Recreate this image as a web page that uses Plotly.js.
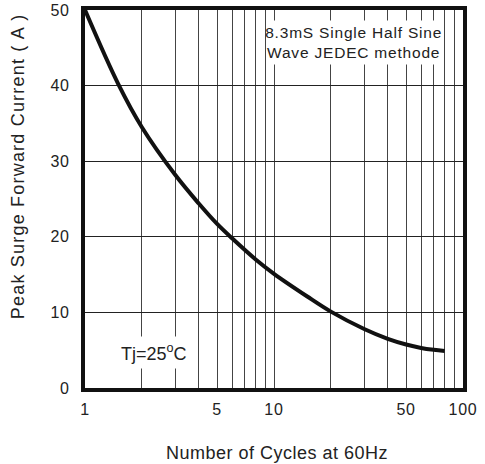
<!DOCTYPE html>
<html>
<head>
<meta charset="utf-8">
<script src="https://cdn.plot.ly/plotly-3.0.1.min.js"></script>
<style>
html,body{margin:0;padding:0;background:#fff;}
#chart{width:485px;height:464px;}
#chart .xtick text, #chart .ytick text{letter-spacing:0.8px;}
#chart .annotation[data-index="0"] text{letter-spacing:0.8px;}
#chart .annotation[data-index="2"] text{letter-spacing:1.2px;}
#chart .annotation[data-index="3"] text{letter-spacing:0.5px;}
</style>
</head>
<body>
<div id="chart"></div>
<script>
// Number of cycles at 60Hz
const cycles = [1, 1.5, 2, 3, 4, 5, 6, 8, 10, 15, 20, 30, 40, 50, 60, 70, 80];
// Peak surge forward current (A)
const current = [50, 40.2, 34.5, 28.2, 24.4, 21.7, 19.8, 17.0, 15.1, 12.1, 10.1, 7.8, 6.5, 5.75, 5.3, 5.05, 4.9];
const xTickVals = [1, 5, 10, 50, 100];
const xTickText = ['1', '5', '10', '50', '100'];
const xMinorVals = [2, 3, 4, 6, 7, 8, 9, 20, 30, 40, 60, 70, 80, 90];
const yTickVals = [0, 10, 20, 30, 40, 50];
const noteText = '8.3mS Single Half Sine<br>Wave JEDEC methode';
const tempText = 'Tj=25<sup>o</sup>C';
const xTitle = 'Number of Cycles at 60Hz';
const yTitle = 'Peak Surge Forward Current ( A )';

const fam = 'Liberation Sans, Arial, sans-serif';
const tickFont = {family: fam, size: 16, color: '#222'};

Plotly.newPlot('chart', [{
  x: cycles, y: current, type: 'scatter', mode: 'lines',
  line: {color: '#111', width: 4, shape: 'spline', smoothing: 1},
  hoverinfo: 'none'
}], {
  width: 485, height: 464,
  margin: {l: 85, r: 22, t: 10, b: 76},
  paper_bgcolor: '#fff', plot_bgcolor: '#fff',
  font: tickFont,
  showlegend: false,
  xaxis: {
    type: 'log', range: [0, 2],
    tickmode: 'array', tickvals: xTickVals, ticktext: xTickText,
    ticks: 'outside', ticklen: 4, tickcolor: 'rgba(0,0,0,0)',
    showgrid: true, gridcolor: '#444', gridwidth: 1,
    minor: {tickmode: 'array', tickvals: xMinorVals, showgrid: true, gridcolor: '#444', gridwidth: 1, ticks: ''},
    showline: true, linecolor: '#111', linewidth: 4, mirror: true,
    zeroline: false,
    tickfont: tickFont
  },
  yaxis: {
    range: [0, 50],
    tickmode: 'array', tickvals: yTickVals,
    ticks: 'outside', ticklen: 8, tickcolor: 'rgba(0,0,0,0)',
    showgrid: true, gridcolor: '#222', gridwidth: 1,
    showline: true, linecolor: '#111', linewidth: 4, mirror: true,
    zeroline: false,
    tickfont: tickFont
  },
  annotations: [
    {xref: 'paper', yref: 'paper', x: 0.709, y: 0.913, xanchor: 'center', yanchor: 'middle',
     text: noteText, showarrow: false,
     bgcolor: '#fff', font: {family: fam, size: 15.5, color: '#222'}, borderpad: 3, align: 'center'},
    {xref: 'paper', yref: 'paper', x: 0.183, y: 0.093, xanchor: 'center', yanchor: 'middle',
     text: tempText, showarrow: false,
     bgcolor: '#fff', font: {family: fam, size: 18, color: '#222'}, borderpad: 4},
    {xref: 'paper', yref: 'paper', x: -0.177, y: 0.585, xanchor: 'center', yanchor: 'middle',
     text: yTitle, textangle: -90, showarrow: false,
     font: {family: fam, size: 18, color: '#222'}},
    {xref: 'paper', yref: 'paper', x: 0.508, y: -0.172, xanchor: 'center', yanchor: 'middle',
     text: xTitle, showarrow: false,
     font: {family: fam, size: 18, color: '#222'}}
  ]
}, {staticPlot: true});
</script>
</body>
</html>
